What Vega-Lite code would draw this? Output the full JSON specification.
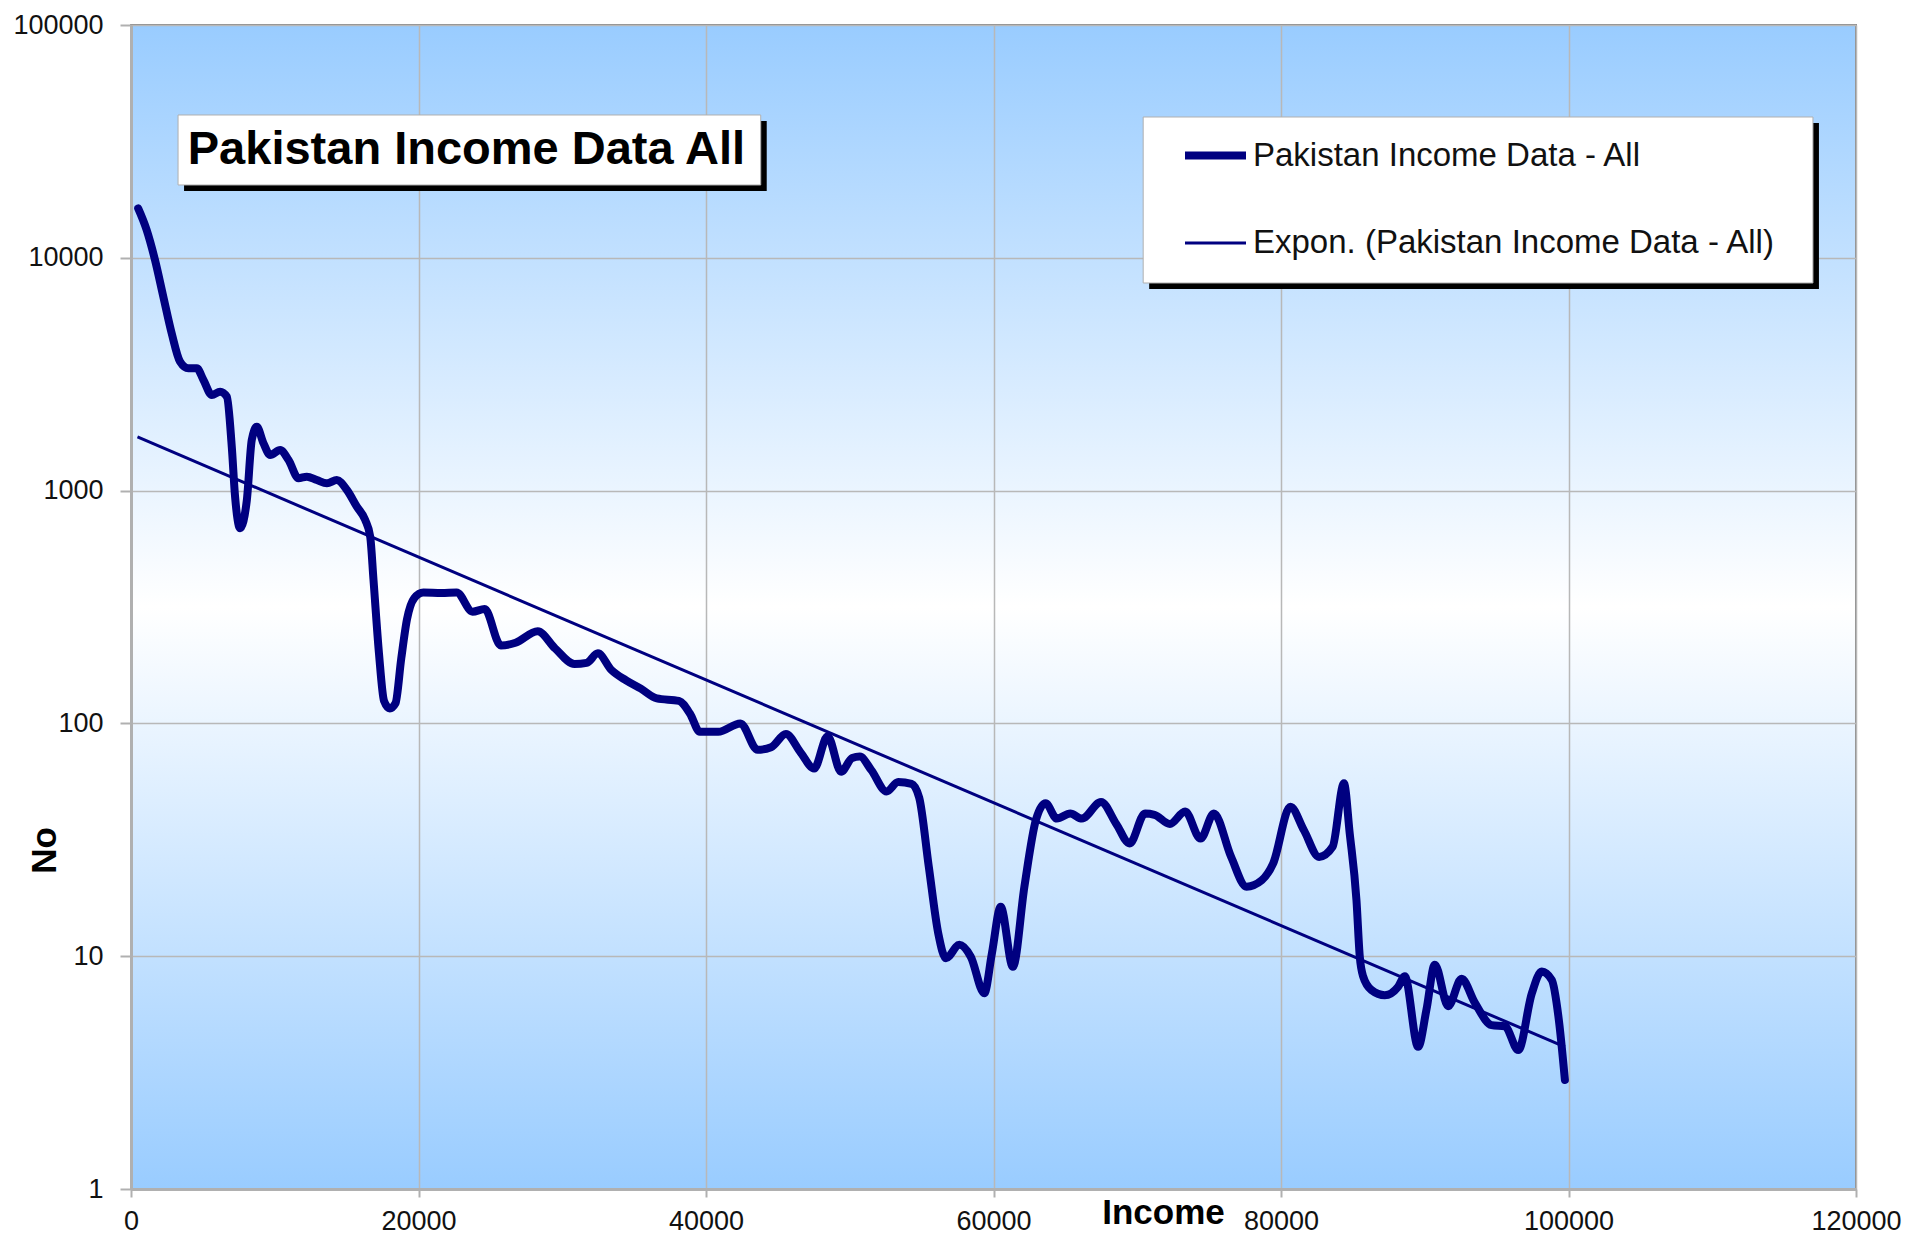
{
  "$schema": "https://vega.github.io/schema/vega-lite/v6.json",
  "width": 1725,
  "height": 1164,
  "autosize": {"type": "none"},
  "padding": {"left": 131, "top": 25, "right": 69, "bottom": 58},
  "background": "white",
  "config": {
    "view": {
      "fill": {"gradient": "linear", "x1": 0, "y1": 0, "x2": 0, "y2": 1,
        "stops": [{"offset": 0, "color": "#99ccff"}, {"offset": 0.5, "color": "#ffffff"}, {"offset": 1, "color": "#99ccff"}]},
      "stroke": "#8c8c8c",
      "strokeWidth": 2
    },
    "axis": {
      "grid": true,
      "gridColor": "#b8b8b8",
      "gridWidth": 1.5,
      "domainColor": "#b0b0b0",
      "domainWidth": 3,
      "tickColor": "#b0b0b0",
      "tickWidth": 2,
      "labelFont": "Liberation Sans",
      "labelFontSize": 27,
      "labelColor": "#111111",
      "labelFlush": false,
      "labelOverlap": false,
      "titleFont": "Liberation Sans",
      "titleFontSize": 35,
      "titleFontWeight": "bold",
      "titleColor": "#000000"
    }
  },
  "datasets": {
    "income": [
      {"income": 500, "no": 16300, "series": "Pakistan Income Data - All"},
      {"income": 1090, "no": 13160, "series": "Pakistan Income Data - All"},
      {"income": 1670, "no": 9780, "series": "Pakistan Income Data - All"},
      {"income": 2250, "no": 6800, "series": "Pakistan Income Data - All"},
      {"income": 2830, "no": 4740, "series": "Pakistan Income Data - All"},
      {"income": 3410, "no": 3580, "series": "Pakistan Income Data - All"},
      {"income": 3990, "no": 3350, "series": "Pakistan Income Data - All"},
      {"income": 4580, "no": 3350, "series": "Pakistan Income Data - All"},
      {"income": 5040, "no": 2985, "series": "Pakistan Income Data - All"},
      {"income": 5620, "no": 2575, "series": "Pakistan Income Data - All"},
      {"income": 6200, "no": 2660, "series": "Pakistan Income Data - All"},
      {"income": 6670, "no": 2530, "series": "Pakistan Income Data - All"},
      {"income": 7010, "no": 1545, "series": "Pakistan Income Data - All"},
      {"income": 7240, "no": 942, "series": "Pakistan Income Data - All"},
      {"income": 7590, "no": 689, "series": "Pakistan Income Data - All"},
      {"income": 8060, "no": 912, "series": "Pakistan Income Data - All"},
      {"income": 8400, "no": 1650, "series": "Pakistan Income Data - All"},
      {"income": 8750, "no": 1880, "series": "Pakistan Income Data - All"},
      {"income": 9220, "no": 1595, "series": "Pakistan Income Data - All"},
      {"income": 9680, "no": 1422, "series": "Pakistan Income Data - All"},
      {"income": 10380, "no": 1493, "series": "Pakistan Income Data - All"},
      {"income": 10960, "no": 1353, "series": "Pakistan Income Data - All"},
      {"income": 11650, "no": 1130, "series": "Pakistan Income Data - All"},
      {"income": 12230, "no": 1148, "series": "Pakistan Income Data - All"},
      {"income": 12930, "no": 1110, "series": "Pakistan Income Data - All"},
      {"income": 13630, "no": 1075, "series": "Pakistan Income Data - All"},
      {"income": 14320, "no": 1110, "series": "Pakistan Income Data - All"},
      {"income": 15020, "no": 1006, "series": "Pakistan Income Data - All"},
      {"income": 15710, "no": 853, "series": "Pakistan Income Data - All"},
      {"income": 16290, "no": 748, "series": "Pakistan Income Data - All"},
      {"income": 16640, "no": 634, "series": "Pakistan Income Data - All"},
      {"income": 16870, "no": 413, "series": "Pakistan Income Data - All"},
      {"income": 17250, "no": 200, "series": "Pakistan Income Data - All"},
      {"income": 17600, "no": 125, "series": "Pakistan Income Data - All"},
      {"income": 18000, "no": 116, "series": "Pakistan Income Data - All"},
      {"income": 18400, "no": 122, "series": "Pakistan Income Data - All"},
      {"income": 18800, "no": 190, "series": "Pakistan Income Data - All"},
      {"income": 19200, "no": 280, "series": "Pakistan Income Data - All"},
      {"income": 19700, "no": 345, "series": "Pakistan Income Data - All"},
      {"income": 20340, "no": 365, "series": "Pakistan Income Data - All"},
      {"income": 21600, "no": 363, "series": "Pakistan Income Data - All"},
      {"income": 22650, "no": 365, "series": "Pakistan Income Data - All"},
      {"income": 23760, "no": 302, "series": "Pakistan Income Data - All"},
      {"income": 24600, "no": 310, "series": "Pakistan Income Data - All"},
      {"income": 25730, "no": 216, "series": "Pakistan Income Data - All"},
      {"income": 26750, "no": 222, "series": "Pakistan Income Data - All"},
      {"income": 28290, "no": 249, "series": "Pakistan Income Data - All"},
      {"income": 29500, "no": 210, "series": "Pakistan Income Data - All"},
      {"income": 30850, "no": 180, "series": "Pakistan Income Data - All"},
      {"income": 31700, "no": 182, "series": "Pakistan Income Data - All"},
      {"income": 32480, "no": 200, "series": "Pakistan Income Data - All"},
      {"income": 33400, "no": 170, "series": "Pakistan Income Data - All"},
      {"income": 34440, "no": 153, "series": "Pakistan Income Data - All"},
      {"income": 35470, "no": 141, "series": "Pakistan Income Data - All"},
      {"income": 36580, "no": 128, "series": "Pakistan Income Data - All"},
      {"income": 38120, "no": 125, "series": "Pakistan Income Data - All"},
      {"income": 38890, "no": 110, "series": "Pakistan Income Data - All"},
      {"income": 39570, "no": 92, "series": "Pakistan Income Data - All"},
      {"income": 40850, "no": 92, "series": "Pakistan Income Data - All"},
      {"income": 42390, "no": 100, "series": "Pakistan Income Data - All"},
      {"income": 43590, "no": 77, "series": "Pakistan Income Data - All"},
      {"income": 44530, "no": 79, "series": "Pakistan Income Data - All"},
      {"income": 45560, "no": 90, "series": "Pakistan Income Data - All"},
      {"income": 46580, "no": 75, "series": "Pakistan Income Data - All"},
      {"income": 47520, "no": 64, "series": "Pakistan Income Data - All"},
      {"income": 48460, "no": 88, "series": "Pakistan Income Data - All"},
      {"income": 49400, "no": 62, "series": "Pakistan Income Data - All"},
      {"income": 50170, "no": 71, "series": "Pakistan Income Data - All"},
      {"income": 50700, "no": 72, "series": "Pakistan Income Data - All"},
      {"income": 51500, "no": 63, "series": "Pakistan Income Data - All"},
      {"income": 52560, "no": 51, "series": "Pakistan Income Data - All"},
      {"income": 53370, "no": 56, "series": "Pakistan Income Data - All"},
      {"income": 54300, "no": 55, "series": "Pakistan Income Data - All"},
      {"income": 54830, "no": 48, "series": "Pakistan Income Data - All"},
      {"income": 55500, "no": 24.2, "series": "Pakistan Income Data - All"},
      {"income": 56160, "no": 12.5, "series": "Pakistan Income Data - All"},
      {"income": 56690, "no": 9.8, "series": "Pakistan Income Data - All"},
      {"income": 57630, "no": 11.2, "series": "Pakistan Income Data - All"},
      {"income": 58420, "no": 9.95, "series": "Pakistan Income Data - All"},
      {"income": 59360, "no": 6.93, "series": "Pakistan Income Data - All"},
      {"income": 59890, "no": 10.3, "series": "Pakistan Income Data - All"},
      {"income": 60500, "no": 16.3, "series": "Pakistan Income Data - All"},
      {"income": 61350, "no": 9.0, "series": "Pakistan Income Data - All"},
      {"income": 62150, "no": 19.9, "series": "Pakistan Income Data - All"},
      {"income": 62950, "no": 38.5, "series": "Pakistan Income Data - All"},
      {"income": 63620, "no": 45.4, "series": "Pakistan Income Data - All"},
      {"income": 64410, "no": 39, "series": "Pakistan Income Data - All"},
      {"income": 65340, "no": 41, "series": "Pakistan Income Data - All"},
      {"income": 66150, "no": 39, "series": "Pakistan Income Data - All"},
      {"income": 67480, "no": 46, "series": "Pakistan Income Data - All"},
      {"income": 68540, "no": 37, "series": "Pakistan Income Data - All"},
      {"income": 69470, "no": 30.5, "series": "Pakistan Income Data - All"},
      {"income": 70540, "no": 41, "series": "Pakistan Income Data - All"},
      {"income": 71200, "no": 40.5, "series": "Pakistan Income Data - All"},
      {"income": 72270, "no": 37, "series": "Pakistan Income Data - All"},
      {"income": 73330, "no": 41.8, "series": "Pakistan Income Data - All"},
      {"income": 74400, "no": 32, "series": "Pakistan Income Data - All"},
      {"income": 75330, "no": 41, "series": "Pakistan Income Data - All"},
      {"income": 76530, "no": 26.7, "series": "Pakistan Income Data - All"},
      {"income": 77600, "no": 19.9, "series": "Pakistan Income Data - All"},
      {"income": 78660, "no": 21.2, "series": "Pakistan Income Data - All"},
      {"income": 79450, "no": 25, "series": "Pakistan Income Data - All"},
      {"income": 80650, "no": 43.9, "series": "Pakistan Income Data - All"},
      {"income": 81590, "no": 34.8, "series": "Pakistan Income Data - All"},
      {"income": 82650, "no": 26.7, "series": "Pakistan Income Data - All"},
      {"income": 83590, "no": 29.5, "series": "Pakistan Income Data - All"},
      {"income": 84380, "no": 55.3, "series": "Pakistan Income Data - All"},
      {"income": 84780, "no": 33.7, "series": "Pakistan Income Data - All"},
      {"income": 85250, "no": 17.4, "series": "Pakistan Income Data - All"},
      {"income": 85480, "no": 9.95, "series": "Pakistan Income Data - All"},
      {"income": 85710, "no": 8.2, "series": "Pakistan Income Data - All"},
      {"income": 86290, "no": 7.16, "series": "Pakistan Income Data - All"},
      {"income": 87220, "no": 6.8, "series": "Pakistan Income Data - All"},
      {"income": 88150, "no": 7.4, "series": "Pakistan Income Data - All"},
      {"income": 88610, "no": 8.2, "series": "Pakistan Income Data - All"},
      {"income": 89540, "no": 4.08, "series": "Pakistan Income Data - All"},
      {"income": 90120, "no": 5.9, "series": "Pakistan Income Data - All"},
      {"income": 90700, "no": 9.2, "series": "Pakistan Income Data - All"},
      {"income": 91630, "no": 6.1, "series": "Pakistan Income Data - All"},
      {"income": 92560, "no": 8.0, "series": "Pakistan Income Data - All"},
      {"income": 93490, "no": 6.3, "series": "Pakistan Income Data - All"},
      {"income": 94650, "no": 5.06, "series": "Pakistan Income Data - All"},
      {"income": 95580, "no": 5.0, "series": "Pakistan Income Data - All"},
      {"income": 96510, "no": 3.95, "series": "Pakistan Income Data - All"},
      {"income": 97440, "no": 6.9, "series": "Pakistan Income Data - All"},
      {"income": 98140, "no": 8.6, "series": "Pakistan Income Data - All"},
      {"income": 98840, "no": 7.9, "series": "Pakistan Income Data - All"},
      {"income": 99300, "no": 5.5, "series": "Pakistan Income Data - All"},
      {"income": 99750, "no": 2.94, "series": "Pakistan Income Data - All"}
    ],
    "trend": [
      {"income": 450, "no": 1700, "series": "Expon. (Pakistan Income Data - All)"},
      {"income": 99750, "no": 4.08, "series": "Expon. (Pakistan Income Data - All)"}
    ]
  },
  "layer": [
    {
      "data": {"name": "income"},
      "mark": {"type": "line", "interpolate": "monotone", "strokeCap": "round", "strokeJoin": "round"},
      "encoding": {
        "x": {"field": "income", "type": "quantitative",
          "scale": {"domain": [0, 120000], "nice": false, "zero": false},
          "axis": {"values": [0, 20000, 40000, 60000, 80000, 100000, 120000], "format": "d",
            "title": "Income", "titleX": 1032, "titleY": 23, "titleBaseline": "middle", "titleAlign": "center",
            "tickSize": 8, "labelPadding": 11}},
        "y": {"field": "no", "type": "quantitative",
          "scale": {"type": "log", "domain": [1, 100000], "nice": false},
          "axis": {"values": [1, 10, 100, 1000, 10000, 100000], "format": "d",
            "title": "No", "titleX": -87, "titleY": 825, "titleBaseline": "middle", "titleAlign": "center", "titleAngle": -90,
            "tickSize": 11, "labelPadding": 17}},
        "color": {"field": "series", "type": "nominal",
          "scale": {"domain": ["Pakistan Income Data - All", "Expon. (Pakistan Income Data - All)"], "range": ["#000080", "#000080"]},
          "legend": {"orient": "none", "legendX": 1050, "legendY": 96, "title": null, "symbolType": "stroke",
            "symbolSize": 3721, "labelFont": "Liberation Sans", "labelFontSize": 33, "labelColor": "#111111",
            "rowPadding": 38, "padding": 0, "labelOffset": 3, "labelLimit": 1000}},
        "strokeWidth": {"field": "series", "type": "nominal",
          "scale": {"domain": ["Pakistan Income Data - All", "Expon. (Pakistan Income Data - All)"], "range": [8, 3]},
          "legend": {"orient": "none", "legendX": 1050, "legendY": 96, "title": null, "symbolType": "stroke",
            "symbolSize": 3721, "labelFont": "Liberation Sans", "labelFontSize": 33, "labelColor": "#111111",
            "rowPadding": 38, "padding": 0, "labelOffset": 3, "labelLimit": 1000}}
      }
    },
    {
      "data": {"name": "trend"},
      "mark": {"type": "line"},
      "encoding": {
        "x": {"field": "income", "type": "quantitative"},
        "y": {"field": "no", "type": "quantitative"},
        "color": {"field": "series", "type": "nominal"},
        "strokeWidth": {"field": "series", "type": "nominal"}
      }
    },
    {
      "data": {"values": [{}]},
      "mark": {"type": "rect", "fill": "#000000", "xOffset": 6, "x2Offset": 6, "yOffset": 6, "y2Offset": 6},
      "encoding": {
        "x": {"datum": 3273, "type": "quantitative"}, "x2": {"datum": 43807},
        "y": {"datum": 41060, "type": "quantitative"}, "y2": {"datum": 20550}
      }
    },
    {
      "data": {"values": [{}]},
      "mark": {"type": "rect", "fill": "#ffffff", "stroke": "#b0b0b0", "strokeWidth": 1},
      "encoding": {
        "x": {"datum": 3273, "type": "quantitative"}, "x2": {"datum": 43807},
        "y": {"datum": 41060, "type": "quantitative"}, "y2": {"datum": 20550}
      }
    },
    {
      "data": {"values": [{}]},
      "mark": {"type": "text", "text": "Pakistan Income Data All", "font": "Liberation Sans", "fontSize": 47,
        "fontWeight": "bold", "color": "#000000", "align": "center", "baseline": "middle"},
      "encoding": {
        "x": {"datum": 23331, "type": "quantitative"},
        "y": {"datum": 29050, "type": "quantitative"}
      }
    },
    {
      "data": {"values": [{}]},
      "mark": {"type": "rect", "fill": "#000000", "xOffset": 6, "x2Offset": 6, "yOffset": 6, "y2Offset": 6},
      "encoding": {
        "x": {"datum": 70412, "type": "quantitative"}, "x2": {"datum": 117005},
        "y": {"datum": 40250, "type": "quantitative"}, "y2": {"datum": 7795}
      }
    },
    {
      "data": {"values": [{}]},
      "mark": {"type": "rect", "fill": "#ffffff", "stroke": "#b0b0b0", "strokeWidth": 1},
      "encoding": {
        "x": {"datum": 70412, "type": "quantitative"}, "x2": {"datum": 117005},
        "y": {"datum": 40250, "type": "quantitative"}, "y2": {"datum": 7795}
      }
    }
  ]
}
